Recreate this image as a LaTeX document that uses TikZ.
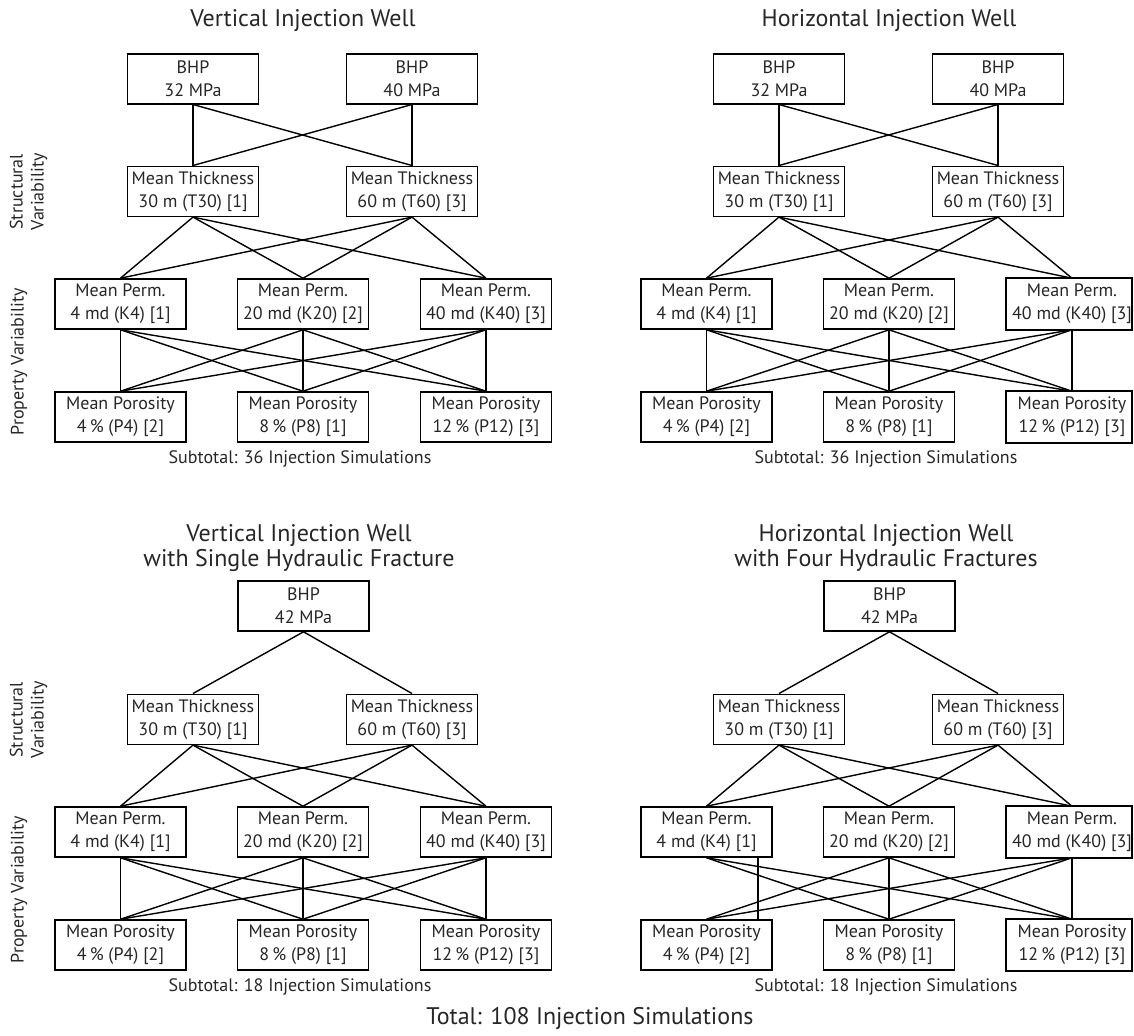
\documentclass[tikz,border=0pt]{standalone}
\usepackage{fontspec}
\setmainfont{PT Sans}
\tikzset{
  box/.style={draw, line width=0.8pt, minimum width=65.5pt, minimum height=25pt, inner sep=1pt, align=center, text=black!85, font=\fontsize{9}{11.5}\selectfont},
  cutbox/.style={box, draw=none},
  link/.style={line width=0.7pt},
  title/.style={align=center, text=black!85, font=\fontsize{12}{12.5}\selectfont},
  note/.style={text=black!85, font=\fontsize{9}{11}\selectfont},
  side/.style={rotate=90, align=center, text=black!85, font=\fontsize{9}{10.5}\selectfont}
}
\begin{document}
\begin{tikzpicture}[x=0.5pt,y=-0.5pt]
	\useasboundingbox (0,0) rectangle (1134,1035);
	% titles
	\node[title] (ta) at (303,21) {Vertical Injection Well};
	\node[title] (tb) at (889,21) {Horizontal Injection Well};
	\node[title] (tc) at (299,548) {Vertical Injection Well\\with Single Hydraulic Fracture};
	\node[title] (td) at (886,548) {Horizontal Injection Well\\with Four Hydraulic Fractures};
	
	% BHP boxes
	\node[box] (aB32) at (193,78.7) {BHP\\32 MPa};
	\node[box] (aB40) at (412,78.7) {BHP\\40 MPa};
	\node[box] (bB32) at (779,78.7) {BHP\\32 MPa};
	\node[box] (bB40) at (998,78.7) {BHP\\40 MPa};
	\node[box] (cB42) at (303.5,606) {BHP\\42 MPa};
	\node[box] (dB42) at (889.5,606) {BHP\\42 MPa};
	
	% thickness, permeability, porosity rows
	\foreach \p/\dx/\dy/\s/\n in {a/0/0/box/36, b/586/0/cutbox/36, c/0/528/box/18, d/586/528/cutbox/18}{
		\node[box] (\p T30) at (193+\dx,191.3+\dy) {Mean Thickness\\30 m (T30) [1]};
		\node[box] (\p T60) at (412+\dx,191.3+\dy) {Mean Thickness\\60 m (T60) [3]};
		\node[box] (\p K4) at (120.5+\dx,304+\dy) {Mean Perm.\\4 md (K4) [1]};
		\node[box] (\p K20) at (303+\dx,304+\dy) {Mean Perm.\\20 md (K20) [2]};
		\node[\s] (\p K40) at (486+\dx,304+\dy) {Mean Perm.\\40 md (K40) [3]};
		\node[box] (\p P4) at (120.5+\dx,417+\dy) {Mean Porosity\\4\,\% (P4) [2]};
		\node[box] (\p P8) at (303+\dx,417+\dy) {Mean Porosity\\8\,\% (P8) [1]};
		\node[\s] (\p P12) at (486+\dx,417+\dy) {Mean Porosity\\12\,\% (P12) [3]};
		\node[note] (\p S) at (300+\dx,459+\dy) {Subtotal: \n{} Injection Simulations};
	}
	% right column boxes cut at the page edge
	\foreach \p in {b,d}
		\foreach \q in {K40,P12}
			\draw[line width=0.8pt] (\p\q.north west) rectangle ([xshift=-3.25pt]\p\q.south east);
	
	% side labels
	\node[side] (sa) at (28.5,191.7) {Structural\\Variability};
	\node[side] (pa) at (19,361.7) {Property Variability};
	\node[side] (sc) at (28.5,719.7) {Structural\\Variability};
	\node[side] (pc) at (19,889.7) {Property Variability};
	
	% links
	\foreach \p in {a,b}
		\foreach \u in {B32,B40}
			\foreach \v in {T30,T60}
				\draw[link] (\p\u.south) -- (\p\v.north);
	\foreach \p in {c,d}
		\foreach \v in {T30,T60}
			\draw[link] (\p B42.south) -- (\p\v.north);
	\foreach \p in {a,b,c,d}{
		\foreach \u in {T30,T60}
			\foreach \v in {K4,K20,K40}
				\draw[link] (\p\u.south) -- (\p\v.north);
		\foreach \u/\v in {K4/P8,K4/P12,K20/P4,K20/P8,K20/P12,K40/P4,K40/P8,K40/P12}
			\draw[link] (\p\u.south) -- (\p\v.north);
	}
	\foreach \p in {a,b,c}
		\draw[link] (\p K4.south) -- (\p P4.north);
	\draw[link] ([xshift=25.75pt]dK4.south) -- ([xshift=25.75pt]dP4.north);
	
	\node[title] (total) at (590,1018) {Total: 108 Injection Simulations};
\end{tikzpicture}
\end{document}
